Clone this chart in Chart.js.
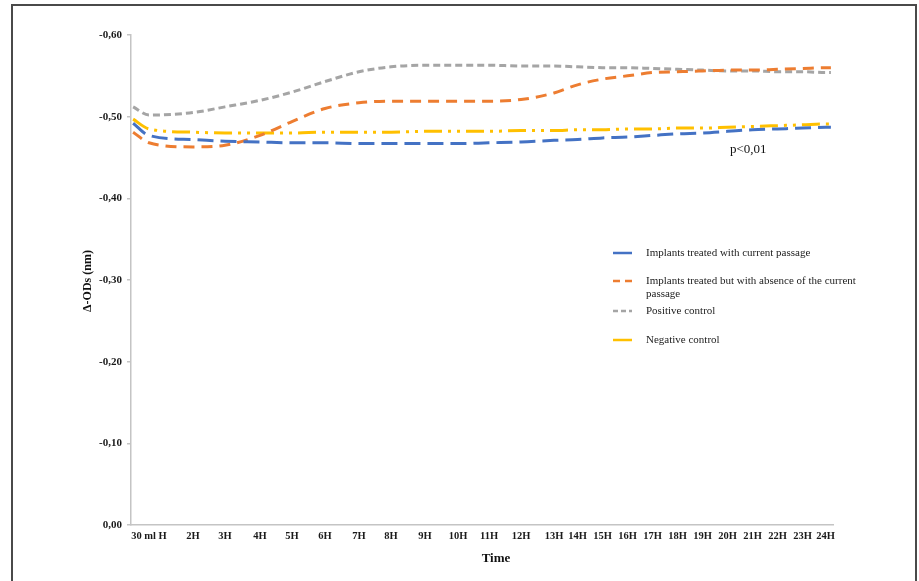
<!DOCTYPE html>
<html>
<head>
<meta charset="utf-8">
<title>Δ-ODs over time</title>
<script src="https://cdn.jsdelivr.net/npm/chart.js@4/dist/chart.umd.min.js"></script>
<style>
  html, body { margin: 0; padding: 0; background: #ffffff; }
  #wrap { width: 919px; height: 581px; }
</style>
</head>
<body>
<div id="wrap"><canvas id="c" width="919" height="581"></canvas></div>
<script>
// Time-axis label text and where each label sits along the run (0 = start, 100 = end of recording)
const tickLabels = ["30 ml H", "2H", "3H", "4H", "5H", "6H", "7H", "8H", "9H", "10H", "11H", "12H",
  "13H", "14H", "15H", "16H", "17H", "18H", "19H", "20H", "21H", "22H", "23H", "24H"];
const tickPos = [2.56, 8.83, 13.39, 18.38, 22.93, 27.64, 32.48, 37.04, 41.88, 46.58, 51.0, 55.56,
  60.26, 63.6, 67.16, 70.73, 74.29, 77.85, 81.41, 84.97, 88.53, 92.09, 95.66, 98.93];

// Sampling positions of the readings (first reading, one at each labelled time, last reading)
const samplePos = [0.3, ...tickPos, 99.7];

// Δ-OD readings (nm) for each group
const currentPassage = [-0.492, -0.477, -0.472, -0.470, -0.469, -0.468, -0.468, -0.467, -0.467, -0.467,
  -0.467, -0.468, -0.469, -0.471, -0.472, -0.474, -0.475, -0.477, -0.479, -0.480, -0.482, -0.484,
  -0.485, -0.486, -0.487, -0.487];
const noCurrentPassage = [-0.481, -0.468, -0.463, -0.465, -0.477, -0.494, -0.510, -0.517, -0.519, -0.519,
  -0.519, -0.519, -0.521, -0.529, -0.539, -0.546, -0.550, -0.554, -0.555, -0.556, -0.557, -0.557,
  -0.558, -0.559, -0.560, -0.560];
const positiveControl = [-0.512, -0.502, -0.505, -0.512, -0.520, -0.530, -0.543, -0.555, -0.561, -0.563,
  -0.563, -0.563, -0.562, -0.562, -0.561, -0.560, -0.560, -0.559, -0.558, -0.557, -0.556, -0.556,
  -0.555, -0.555, -0.554, -0.554];
const negativeControl = [-0.497, -0.485, -0.481, -0.480, -0.480, -0.480, -0.481, -0.481, -0.481, -0.482,
  -0.482, -0.482, -0.483, -0.483, -0.484, -0.484, -0.485, -0.485, -0.486, -0.486, -0.487, -0.488,
  -0.489, -0.490, -0.491, -0.491];

const seriesNames = [
  "Implants treated with current passage",
  "Implants treated but with absence of the current passage",
  "Positive control",
  "Negative control"
];

const SERIF = '"Liberation Serif", "Times New Roman", serif';

function points(vals) {
  return vals.map((v, i) => ({ x: samplePos[i], y: v }));
}

const lineBase = { pointRadius: 0, borderWidth: 3, fill: false, cubicInterpolationMode: 'monotone', borderCapStyle: 'butt' };

const datasets = [
  Object.assign({}, lineBase, { label: seriesNames[0], data: points(currentPassage), borderColor: '#4472C4', borderDash: [16, 7], legendDash: [] }),
  Object.assign({}, lineBase, { label: seriesNames[1], data: points(noCurrentPassage), borderColor: '#ED7D31', borderDash: [11, 7], legendDash: [7, 5] }),
  Object.assign({}, lineBase, { label: seriesNames[2], data: points(positiveControl), borderColor: '#A5A5A5', borderDash: [7, 4], legendDash: [5, 3] }),
  Object.assign({}, lineBase, { label: seriesNames[3], data: points(negativeControl), borderColor: '#FFC000', borderDash: [18, 6, 3, 6, 3, 6], legendDash: [] })
];

// Frame, axis titles, side legend and the significance note
const decorations = {
  id: 'decorations',
  afterDraw(chart) {
    const ctx = chart.ctx;
    const area = chart.chartArea;
    ctx.save();

    // outer frame
    ctx.strokeStyle = '#4a4a4a';
    ctx.lineWidth = 2;
    ctx.strokeRect(12, 5, 904, 580);

    // y-axis title
    ctx.fillStyle = '#111';
    ctx.font = 'bold 12px ' + SERIF;
    ctx.textAlign = 'center';
    ctx.textBaseline = 'middle';
    ctx.save();
    ctx.translate(88, (area.top + area.bottom) / 2 + 1);
    ctx.rotate(-Math.PI / 2);
    ctx.fillText('Δ-ODs (nm)', 0, 0);
    ctx.restore();

    // x-axis title
    ctx.font = 'bold 13px ' + SERIF;
    ctx.fillText('Time', 496, 559);

    // significance note
    ctx.font = '13px ' + SERIF;
    ctx.textAlign = 'left';
    ctx.fillText('p<0,01', 730, 150);

    // legend
    const rows = [
      { ds: 0, y: 253, lines: ['Implants treated with current passage'] },
      { ds: 1, y: 281, lines: ['Implants treated but with absence of the current', 'passage'] },
      { ds: 2, y: 311, lines: ['Positive control'] },
      { ds: 3, y: 340, lines: ['Negative control'] }
    ];
    ctx.font = '11px ' + SERIF;
    rows.forEach(r => {
      const d = chart.data.datasets[r.ds];
      ctx.beginPath();
      ctx.setLineDash(d.legendDash);
      ctx.strokeStyle = d.borderColor;
      ctx.lineWidth = 2.5;
      ctx.moveTo(613, r.y);
      ctx.lineTo(632, r.y);
      ctx.stroke();
      ctx.setLineDash([]);
      ctx.fillStyle = '#222';
      r.lines.forEach((t, k) => ctx.fillText(t, 646, r.y + k * 13));
    });

    ctx.restore();
  }
};

const whiteBg = {
  id: 'whiteBg',
  beforeDraw(chart) {
    const ctx = chart.ctx;
    ctx.save();
    ctx.fillStyle = '#ffffff';
    ctx.fillRect(0, 0, chart.width, chart.height);
    ctx.restore();
  }
};

new Chart(document.getElementById('c'), {
  type: 'line',
  data: { datasets },
  options: {
    responsive: false,
    devicePixelRatio: 1,
    animation: false,
    layout: { padding: { left: 20, top: 35, right: 86, bottom: 10 } },
    plugins: { legend: { display: false }, tooltip: { enabled: false } },
    scales: {
      x: {
        type: 'linear',
        min: 0,
        max: 100,
        afterBuildTicks(scale) { scale.ticks = tickPos.map(v => ({ value: v })); },
        afterFit(scale) { scale.height = 581 - 525 - 10; },
        ticks: {
          autoSkip: false,
          maxRotation: 0,
          minRotation: 0,
          padding: 5,
          color: '#1a1a1a',
          font: { family: SERIF, size: 10.5, weight: 'bold' },
          callback: (v, i) => tickLabels[i]
        },
        grid: { display: true, drawOnChartArea: false, drawTicks: false },
        border: { display: true, color: '#c4c4c4', width: 1.5 }
      },
      y: {
        type: 'linear',
        reverse: true,
        min: -0.6,
        max: 0,
        afterFit(scale) { scale.width = 131 - 20; },
        ticks: {
          stepSize: 0.1,
          padding: 5,
          color: '#1a1a1a',
          font: { family: SERIF, size: 11, weight: 'bold' },
          callback: v => (Math.abs(v) < 1e-9 ? 0 : v).toFixed(2).replace('.', ',')
        },
        grid: { display: true, drawOnChartArea: false, drawTicks: true, tickLength: 4, color: '#c4c4c4', lineWidth: 1.5 },
        border: { display: true, color: '#c4c4c4', width: 1.5 }
      }
    }
  },
  plugins: [whiteBg, decorations]
});
</script>
</body>
</html>
